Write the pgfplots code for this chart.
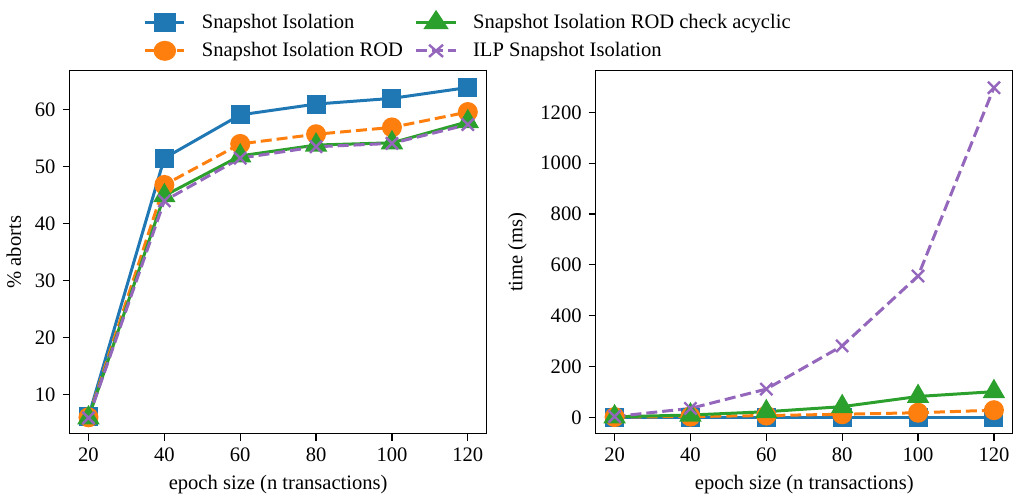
\documentclass[border=0pt]{standalone}
\usepackage{fontspec}
\setmainfont{Liberation Serif}
\usepackage{pgfplots}
\pgfplotsset{compat=1.18}

\definecolor{tblue}{HTML}{1F77B4}
\definecolor{torange}{HTML}{FF7F0E}
\definecolor{tgreen}{HTML}{2CA02C}
\definecolor{tpurple}{HTML}{9467BD}

\newcommand{\fnt}{\fontsize{10.3}{12}\selectfont}

\pgfplotsset{
  panel/.style={
    scale only axis, width=209pt, height=182pt,
    xmin=15, xmax=125, xtick={20,40,60,80,100,120},
    tick align=outside, xtick pos=bottom, ytick pos=left,
    major tick length=3.5pt,
    axis line style={line width=0.6pt},
    tick style={line width=0.6pt, black},
    /pgf/number format/assume math mode=true,
    /pgf/number format/set thousands separator={},
    ticklabel style={font=\fnt},
    label style={font=\fnt},
    xlabel={epoch size (n transactions)},
    every axis plot/.append style={line width=1.5pt},
    legend image post style={xscale=1.15},
  },
  si/.style={color=tblue, solid, mark=square*, mark size=4pt},
  rod/.style={color=torange, dash pattern=on 5.5pt off 2.5pt, mark=*, mark size=4.25pt, mark options={solid}},
  acyc/.style={color=tgreen, solid, mark=triangle*, mark size=5pt},
  ilp/.style={color=tpurple, dash pattern=on 5.5pt off 2.5pt, mark=x, mark size=4.3pt, mark options={solid, line width=1.2pt}},
}

\begin{document}
\begin{tikzpicture}[font=\fnt]
  \begin{axis}[
    panel,
    ymin=3.1, ymax=66.9,
    ytick={10,20,30,40,50,60},
    ylabel={\% aborts},
    legend columns=2, transpose legend,
    legend cell align=left,
    legend style={at={(0.153,1.195)}, anchor=north west, draw=none, fill=none,
      font=\fnt, row sep=1.5pt, inner sep=5pt,
      /tikz/every odd column/.append style={column sep=6pt},
      /tikz/every even column/.append style={column sep=4pt}},
  ]
    \addplot[si] coordinates {(20,6.1)(40,51.5)(60,59.1)(80,61.0)(100,62.0)(120,63.9)};
    \addlegendentry{Snapshot Isolation}
    \addplot[rod] coordinates {(20,6.0)(40,46.8)(60,54.0)(80,55.7)(100,56.9)(120,59.6)};
    \addlegendentry{Snapshot Isolation ROD}
    \addplot[acyc] coordinates {(20,5.9)(40,44.9)(60,51.9)(80,53.8)(100,54.2)(120,57.9)};
    \addlegendentry{Snapshot Isolation ROD check acyclic}
    \addplot[ilp] coordinates {(20,5.9)(40,44.0)(60,51.5)(80,53.5)(100,54.1)(120,57.4)};
    \addlegendentry{ILP Snapshot Isolation}
  \end{axis}
  \begin{axis}[
    panel, at={(263.5pt,0)},
    ymin=-65, ymax=1365,
    ytick={0,200,400,600,800,1000,1200},
    ylabel={time (ms)},
  ]
    \addplot[si] coordinates {(20,1)(40,1)(60,1)(80,1)(100,1)(120,1)};
    \addplot[rod] coordinates {(20,1)(40,3)(60,7)(80,12)(100,18)(120,28)};
    \addplot[acyc] coordinates {(20,2)(40,9)(60,22)(80,42)(100,82)(120,101)};
    \addplot[ilp] coordinates {(20,3)(40,35)(60,111)(80,281)(100,556)(120,1297)};
  \end{axis}
\end{tikzpicture}
\end{document}
